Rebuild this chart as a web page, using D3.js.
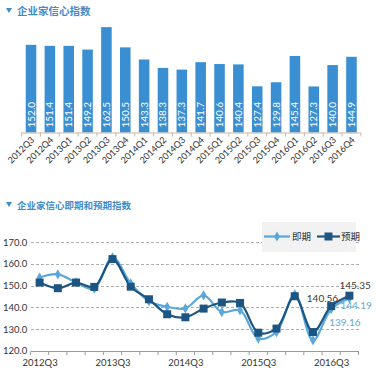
<!DOCTYPE html>
<html><head><meta charset="utf-8">
<script src="https://cdn.jsdelivr.net/npm/d3@7"></script>
<style>
html,body{margin:0;padding:0;background:#fff;}
svg{display:block;}
</style></head>
<body>
<svg id="c" width="376" height="375"></svg>
<script>
const quarters = ["2012Q3","2012Q4","2013Q1","2013Q2","2013Q3","2013Q4","2014Q1","2014Q2","2014Q3","2014Q4","2015Q1","2015Q2","2015Q3","2015Q4","2016Q1","2016Q2","2016Q3","2016Q4"];
const confidence = [152.0,151.4,151.4,149.2,162.5,150.5,143.3,138.3,137.3,141.7,140.6,140.4,127.4,129.8,145.4,127.3,140.0,144.9];
const currentIdx = [153.7,155.2,151.5,148.6,163.0,151.0,142.8,140.2,139.5,145.5,137.8,138.6,125.6,128.6,146.0,124.8,139.16,144.19];
const expectedIdx = [151.4,148.8,151.4,149.4,162.2,149.5,143.7,136.8,135.4,139.4,142.2,142.0,128.3,130.2,145.1,128.6,140.56,145.35];
const yTicks = [120,130,140,150,160,170];
const xLabels = ["2012Q3","2013Q3","2014Q3","2015Q3","2016Q3"];
const seriesNames = ["即期","预期"];
const title1 = "企业家信心指数";
const title2 = "企业家信心即期和预期指数";

const svg = d3.select("#c");
const cn = "'Noto Sans CJK SC','Noto Sans',sans-serif";
const num = "Lato,'Liberation Sans',sans-serif";
const titleColor = "#3f8ccb";
const barColor = "#3a8fd2";
const lightC = "#5ba7da";
const darkC = "#1d5582";

function title(y, text, size){
  const g = svg.append("g");
  g.append("path").attr("d", `M6,${y-3}L12,${y-3}L9,${y+2}Z`).attr("fill", titleColor);
  g.append("text").attr("x", 17).attr("y", y+4).attr("font-family", cn).attr("font-size", size)
    .attr("font-weight", "bold").attr("fill", titleColor).text(text);
}
title(11, title1, 10.5);
title(205, title2, 9.5);

// ---------- Top bar chart ----------
const xb = d3.scaleBand().domain(quarters).range([21.6, 360.9]).paddingInner(0.44).paddingOuter(0.22);
const yb = d3.scaleLinear().domain([100, 170]).range([132.5, 132.5 - 70*1.686]);
const stepB = xb.step();

svg.append("g").selectAll("rect").data(quarters).join("rect")
  .attr("x", d => xb(d)).attr("width", xb.bandwidth())
  .attr("y", (d,i) => yb(confidence[i])).attr("height", (d,i) => yb(100) - yb(confidence[i]))
  .attr("fill", barColor);

svg.append("g").selectAll("text").data(quarters).join("text")
  .attr("transform", (d,i) => `translate(${xb(d)+xb.bandwidth()/2+3.5},${yb(100)-5}) rotate(-90)`)
  .attr("font-family", num).attr("font-size", 10).attr("fill", "#fff")
  .text((d,i) => confidence[i].toFixed(1));

const axB = svg.append("g");
axB.append("line").attr("x1", xb.range()[0]).attr("x2", xb.range()[1]).attr("y1", yb(100)+0.5).attr("y2", yb(100)+0.5)
  .attr("stroke", "#c9b9a6").attr("stroke-width", 1);
axB.selectAll("line.t").data(d3.range(quarters.length+1)).join("line").attr("class","t")
  .attr("x1", i => xb.range()[0] + i*stepB).attr("x2", i => xb.range()[0] + i*stepB)
  .attr("y1", yb(100)).attr("y2", yb(100)+4).attr("stroke", "#c9b9a6");
axB.selectAll("text").data(quarters).join("text")
  .attr("transform", d => `translate(${xb(d)+xb.bandwidth()/2+4},${yb(100)+8}) rotate(-45)`)
  .attr("text-anchor", "end").attr("font-family", num).attr("font-size", 9).attr("fill", "#333")
  .text(d => d);

// ---------- Bottom line chart ----------
const xl = d3.scalePoint().domain(quarters).range([30.5, 358.5]).padding(0.5);
const yl = d3.scaleLinear().domain([120, 170]).range([350.7, 242.2]);
const stepL = xl.step();

svg.append("g").selectAll("line").data(yTicks.filter(v => v > 120)).join("line")
  .attr("x1", 31).attr("x2", 360).attr("y1", d => Math.round(yl(d))+0.5).attr("y2", d => Math.round(yl(d))+0.5)
  .attr("stroke", "#9a9a9a").attr("stroke-dasharray", "3,2").attr("stroke-width", 0.8);

svg.append("g").selectAll("text").data(yTicks).join("text")
  .attr("x", 3).attr("y", d => yl(d)+3.5).attr("font-family", num).attr("font-size", 9.5).attr("fill", "#333")
  .text(d => d.toFixed(1));

const axL = svg.append("g");
const axY = 351.5;
axL.append("line").attr("x1", 31).attr("x2", 359).attr("y1", axY).attr("y2", axY).attr("stroke", "#999");
axL.selectAll("line.t").data(d3.range(quarters.length+1)).join("line").attr("class","t")
  .attr("x1", i => xl(quarters[0]) - stepL/2 + i*stepL).attr("x2", i => xl(quarters[0]) - stepL/2 + i*stepL)
  .attr("y1", axY).attr("y2", axY+3.5).attr("stroke", "#999");
axL.selectAll("text").data(xLabels).join("text")
  .attr("x", d => xl(d)+0.5).attr("y", 366).attr("text-anchor", "middle")
  .attr("font-family", num).attr("font-size", 9.5).attr("fill", "#333").text(d => d);

const line = d3.line().x((d,i) => xl(quarters[i])).y(d => yl(d)).curve(d3.curveCatmullRom.alpha(0.5));

svg.append("path").datum(currentIdx).attr("d", line).attr("fill", "none").attr("stroke", lightC).attr("stroke-width", 2.2);
svg.append("path").datum(expectedIdx).attr("d", line).attr("fill", "none").attr("stroke", darkC).attr("stroke-width", 2.2);

const diamond = d3.symbol().type(d3.symbolDiamond).size(30);
svg.append("g").selectAll("path").data(currentIdx).join("path")
  .attr("d", diamond).attr("transform", (d,i) => `translate(${xl(quarters[i])},${yl(d)})`).attr("fill", lightC);
svg.append("g").selectAll("rect").data(expectedIdx).join("rect")
  .attr("x", (d,i) => xl(quarters[i]) - 4).attr("y", d => yl(d) - 4).attr("width", 8).attr("height", 8)
  .attr("fill", darkC);

// value labels
const n = quarters.length;
const lab = svg.append("g").attr("font-family", num).attr("font-size", 10);
lab.append("text").attr("x", xl(quarters[n-1]) - 10).attr("y", yl(expectedIdx[n-1]) - 7).attr("fill", "#3a3a3a").text(expectedIdx[n-1].toFixed(2));
lab.append("text").attr("x", xl(quarters[n-2]) + 7).attr("y", yl(expectedIdx[n-2]) - 4).attr("text-anchor", "end").attr("fill", "#3a3a3a").text(expectedIdx[n-2].toFixed(2));
lab.append("text").attr("x", xl(quarters[n-1]) - 9).attr("y", yl(currentIdx[n-1]) + 11).attr("fill", "#6aa6cf").text(currentIdx[n-1].toFixed(2));
lab.append("text").attr("x", xl(quarters[n-2]) - 2).attr("y", yl(currentIdx[n-2]) + 17).attr("fill", "#6aa6cf").text(currentIdx[n-2].toFixed(2));

// legend
const lg = svg.append("g");
lg.append("rect").attr("x", 262).attr("y", 222).attr("width", 94).attr("height", 30).attr("fill", "#f2f2f2");
lg.append("line").attr("x1", 264).attr("x2", 290).attr("y1", 236.5).attr("y2", 236.5).attr("stroke", lightC).attr("stroke-width", 2.2);
lg.append("path").attr("d", diamond).attr("transform", "translate(277,236.5)").attr("fill", lightC);
lg.append("text").attr("x", 292).attr("y", 240).attr("font-family", cn).attr("font-size", 9.5).attr("fill", "#333").text(seriesNames[0]);
lg.append("line").attr("x1", 317).attr("x2", 340).attr("y1", 236.5).attr("y2", 236.5).attr("stroke", darkC).attr("stroke-width", 2.2);
lg.append("rect").attr("x", 324.5).attr("y", 232.5).attr("width", 8).attr("height", 8).attr("fill", darkC);
lg.append("text").attr("x", 341).attr("y", 240).attr("font-family", cn).attr("font-size", 9.5).attr("fill", "#333").text(seriesNames[1]);
</script>
</body></html>
